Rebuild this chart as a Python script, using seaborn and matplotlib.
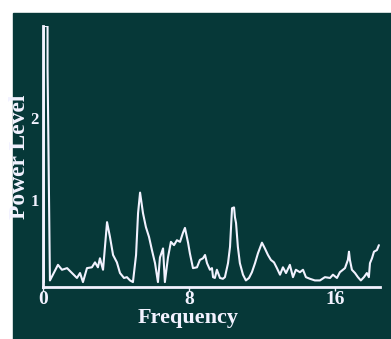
import matplotlib
matplotlib.use('Agg')  # Non-interactive backend
import matplotlib.pyplot as plt
import seaborn as sns
from matplotlib.patches import Rectangle

# Spectrum (frequency, power level)
freq = [0.05, 0.05, 0.25, 0.25, 0.38,
        0.82, 1.04, 1.32, 1.59, 1.86, 2.03, 2.19, 2.41, 2.68, 2.85, 3.01,
        3.12, 3.29, 3.51, 3.67, 3.84, 4.05, 4.22, 4.44, 4.60, 4.77, 4.93,
        5.10, 5.21, 5.32, 5.48, 5.64, 5.81, 5.97, 6.14, 6.30, 6.41, 6.58,
        6.68, 6.85, 7.01, 7.18, 7.34, 7.51, 7.67, 7.78, 7.95, 8.05, 8.22,
        8.44, 8.60, 8.77, 8.88, 8.99, 9.15, 9.26, 9.32, 9.42, 9.53, 9.70,
        9.86, 9.97, 10.14, 10.25, 10.36, 10.47, 10.52, 10.58, 10.68, 10.79,
        10.96, 11.12, 11.29, 11.45, 11.62, 11.78, 12.00, 12.16, 12.33,
        12.49, 12.66, 12.82, 12.99, 13.15, 13.32, 13.53, 13.70, 13.86,
        14.08, 14.25, 14.41, 14.63, 14.90, 15.18, 15.45, 15.73, 15.89,
        16.11, 16.27, 16.44, 16.55, 16.71, 16.77, 16.82, 16.93, 17.10,
        17.26, 17.42, 17.59, 17.75, 17.86, 17.92, 18.03, 18.14, 18.30, 18.41]
power = [0.0, 3.12, 3.12, 2.60, 0.02,
         0.21, 0.15, 0.17, 0.11, 0.05, 0.11, 0.00, 0.17, 0.18, 0.24, 0.18,
         0.29, 0.15, 0.73, 0.55, 0.33, 0.24, 0.11, 0.05, 0.06, 0.02, 0.00,
         0.33, 0.84, 1.09, 0.84, 0.67, 0.55, 0.39, 0.23, 0.00, 0.30, 0.41,
         0.00, 0.30, 0.49, 0.45, 0.51, 0.49, 0.60, 0.66, 0.48, 0.35, 0.17,
         0.18, 0.27, 0.29, 0.33, 0.23, 0.15, 0.17, 0.06, 0.05, 0.15, 0.05,
         0.04, 0.06, 0.23, 0.43, 0.90, 0.91, 0.79, 0.72, 0.43, 0.23,
         0.09, 0.02, 0.05, 0.12, 0.23, 0.35, 0.48, 0.41, 0.33,
         0.27, 0.24, 0.17, 0.09, 0.18, 0.11, 0.21, 0.06, 0.15,
         0.12, 0.15, 0.06, 0.04, 0.02, 0.02, 0.06, 0.05, 0.09,
         0.05, 0.12, 0.15, 0.17, 0.27, 0.37, 0.27, 0.15, 0.11,
         0.06, 0.02, 0.06, 0.11, 0.06, 0.23, 0.29, 0.37, 0.39, 0.45]

x_ticks = [0, 8, 16]
y_ticks = [1, 2]

BG = '#063838'
FG = '#f2f2ff'

sns.set_style("ticks")
plt.rcParams['font.family'] = ['Liberation Serif', 'DejaVu Serif']
plt.rcParams['font.weight'] = 'bold'

fig = plt.figure(figsize=(3.91, 3.39), dpi=100)
fig.patch.set_facecolor('white')
# dark panel, leaving a thin white strip on the top and left
fig.add_artist(Rectangle((13 / 391, 0), 1, 326 / 339, transform=fig.transFigure,
                         color=BG, zorder=0))

ax = fig.add_axes([43 / 391, 52 / 339, 337 / 391, 261 / 339])
ax.set_facecolor('none')

sns.lineplot(x=freq, y=power, ax=ax, color=FG, linewidth=1.5,
             estimator=None, sort=False)

ax.set_xlim(0, 18.47)
ax.set_ylim(-0.06, 3.12)
ax.set_xticks(x_ticks)
ax.set_yticks(y_ticks)

for side in ['top', 'right']:
    ax.spines[side].set_visible(False)
for side in ['left', 'bottom']:
    ax.spines[side].set_color(FG)
    ax.spines[side].set_linewidth(2)

ax.tick_params(axis='x', colors=FG, labelsize=14, length=3, width=1, pad=0)
ax.tick_params(axis='y', colors=FG, labelsize=12, length=0, pad=3)
for lbl in ax.get_xticklabels() + ax.get_yticklabels():
    lbl.set_fontweight('bold')

ax.set_xlabel('Frequency', color=FG, fontsize=16, fontweight='bold')
ax.set_ylabel('Power Level', color=FG, fontsize=17, fontweight='bold')
ax.xaxis.set_label_coords(0.43, -0.08)
ax.yaxis.set_label_coords(-0.04, 0.5)

plt.savefig('out.png', dpi=100)
plt.close()
